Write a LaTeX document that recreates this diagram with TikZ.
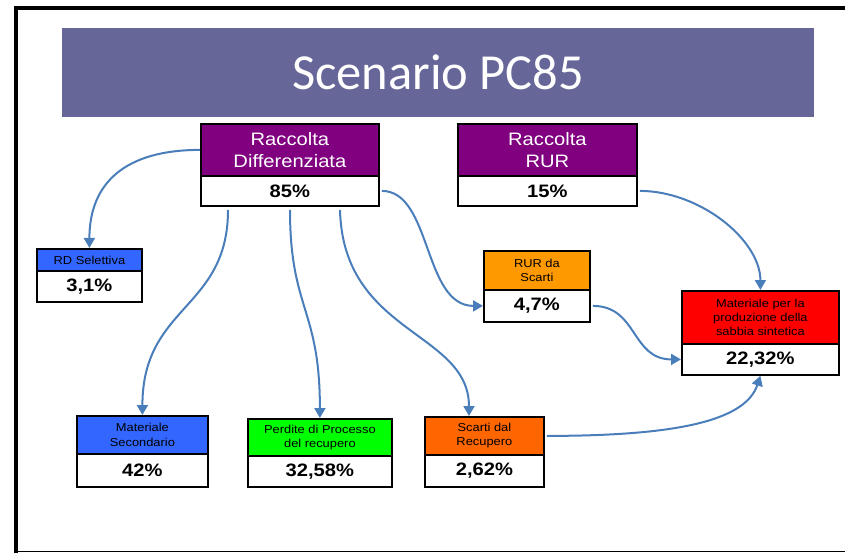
\documentclass[tikz,border=0pt]{standalone}
\usepackage{fontspec}
\setmainfont{Liberation Sans}[FakeStretch=1.12]
\newfontfamily\titlefont{Carlito}
\usetikzlibrary{calc,arrows.meta}
\definecolor{bannercol}{RGB}{102,102,153}
\definecolor{purplecol}{RGB}{128,0,128}
\definecolor{bluecol}{RGB}{51,102,255}
\definecolor{orangecol}{RGB}{255,153,0}
\definecolor{darkorange}{RGB}{255,102,0}
\definecolor{redcol}{RGB}{255,0,0}
\definecolor{greencol}{RGB}{0,255,0}
\definecolor{conncol}{RGB}{74,126,187}
\newcommand\fsbig{\fontsize{18}{21.5}\selectfont}
\newcommand\fssmall{\fontsize{11.5}{14.2}\selectfont}
\newcommand\fspct{\fontsize{18}{21}\selectfont\bfseries}
\begin{document}
\begin{tikzpicture}[x=1pt,y=-1pt,
  boxtop/.style={draw=black, line width=1.8pt, anchor=north west, inner sep=0pt, align=center},
  boxbot/.style={draw=black, line width=1.8pt, anchor=north west, inner sep=0pt, align=center, fill=white, font=\fspct},
  conn/.style={draw=conncol, line width=2pt, -{Triangle[length=10pt,width=11pt]}}]
\useasboundingbox (0,0) rectangle (845,553);
% frame
\draw[line width=4pt] (14,8) -- (845,8);
\draw[line width=4pt] (16,6) -- (16,553);
\draw[line width=1.5pt] (14,551.5) -- (845,551.5);
% banner
\node[fill=bannercol, minimum width=752pt, minimum height=89pt, anchor=north west, inner sep=0pt] (banner) at (62,28) {};
\node[font=\titlefont\fontsize{50.5}{56}\selectfont, text=white] (title) at (banner.center) {Scenario PC85};
% boxes
\node[boxtop, fill=purplecol, text=white, font=\fsbig, minimum width=178pt, minimum height=52pt] (rdT) at (200,123) {Raccolta\\Differenziata};
\node[boxbot, minimum width=178pt, minimum height=30pt] (rdB) at (200,175) {85\%};
\node[boxtop, fill=purplecol, text=white, font=\fsbig, minimum width=179pt, minimum height=52pt] (rurT) at (457,123) {Raccolta\\RUR};
\node[boxbot, minimum width=179pt, minimum height=30pt] (rurB) at (457,175) {15\%};
\node[boxtop, fill=bluecol, font=\fssmall, minimum width=105pt, minimum height=22pt] (selT) at (36,248) {RD Selettiva};
\node[boxbot, minimum width=105pt, minimum height=31pt] (selB) at (36,270) {3,1\%};
\node[boxtop, fill=orangecol, font=\fssmall, minimum width=106pt, minimum height=39pt] (rursT) at (483,250) {RUR da\\Scarti};
\node[boxbot, minimum width=106pt, minimum height=32pt] (rursB) at (483,289) {4,7\%};
\node[boxtop, fill=redcol, font=\fssmall, minimum width=157pt, minimum height=53pt] (matT) at (681,290) {Materiale per la\\produzione della\\sabbia sintetica};
\node[boxbot, minimum width=157pt, minimum height=31pt] (matB) at (681,343) {22,32\%};
\node[boxtop, fill=bluecol, font=\fssmall, minimum width=131pt, minimum height=38pt] (secT) at (76,415) {Materiale\\Secondario};
\node[boxbot, minimum width=131pt, minimum height=33pt] (secB) at (76,453) {42\%};
\node[boxtop, fill=greencol, font=\fssmall, minimum width=144pt, minimum height=37pt] (perdT) at (247,418) {Perdite di Processo\\del recupero};
\node[boxbot, minimum width=144pt, minimum height=31pt] (perdB) at (247,455) {32,58\%};
\node[boxtop, fill=darkorange, font=\fssmall, minimum width=119pt, minimum height=38pt] (scarT) at (424,416) {Scarti dal\\Recupero};
\node[boxbot, minimum width=119pt, minimum height=32pt] (scarB) at (424,454) {2,62\%};
% connectors
\draw[conn] (rdT.west) .. controls +(-75,0) and +(0,-65) .. (selT.north);
\draw[conn] ($(rdB.south west)+(28,3)$) .. controls +(0,100) and +(0,-110) .. (secT.north);
\draw[conn] ($(rdB.south west)+(90,3)$) .. controls +(0,100) and +(0,-110) .. (perdT.north);
\draw[conn] ($(rdB.south west)+(140,3)$) .. controls +(3,125) and +(0,-85) .. ($(scarT.north west)+(45,0)$);
\draw[conn] ($(rdB.east)+(2,0)$) .. controls +(50,0) and +(-60,0) .. (rursB.west);
\draw[conn] ($(rurB.east)+(2,0)$) .. controls +(60,0) and +(0,-50) .. (matT.north);
\draw[conn] ($(rursB.east)+(2,0)$) .. controls +(45,0) and +(-50,0) .. (matB.west);
\draw[conn] ($(scarT.east)+(2,0)$) .. controls +(130,0) and +(-15,45) .. (matB.south);
\end{tikzpicture}
\end{document}
